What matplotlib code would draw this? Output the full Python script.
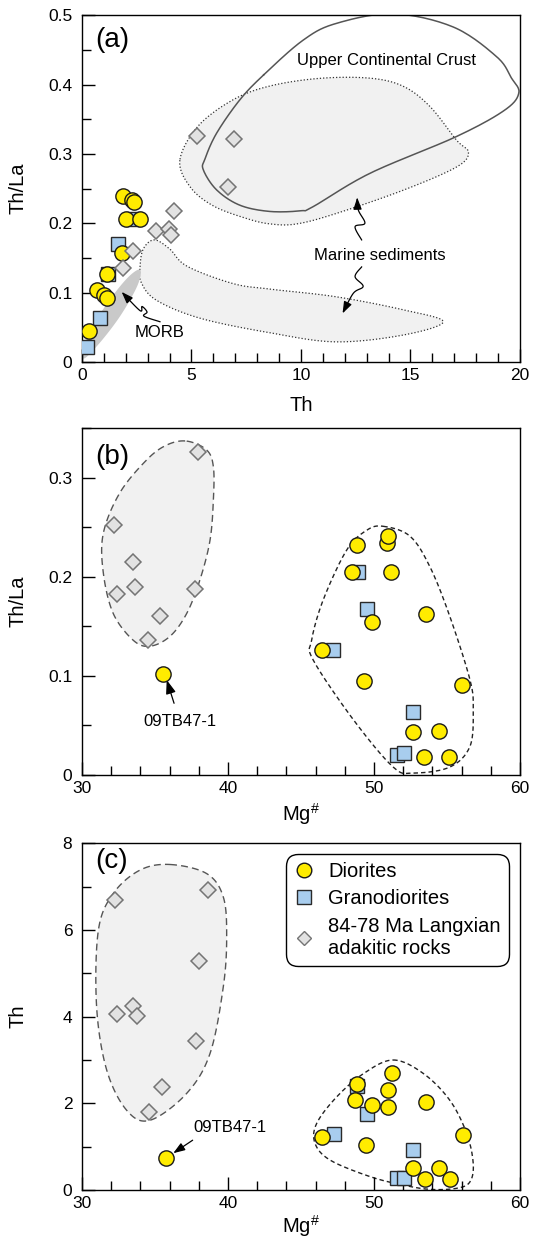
import numpy as np
import matplotlib
matplotlib.use('Agg')
import matplotlib.pyplot as plt
from matplotlib.lines import Line2D
from matplotlib.patches import Polygon

plt.rcParams['font.family'] = ['Liberation Sans', 'DejaVu Sans']
plt.rcParams['mathtext.fontset'] = 'custom'
plt.rcParams['mathtext.rm'] = 'Liberation Sans'
plt.rcParams['mathtext.it'] = 'Liberation Sans'

# ---- panel (a): Th vs Th/La ----
a_dio_th = [1.89, 2.27, 2.37, 2.0, 2.65, 1.84, 1.16, 0.67, 1.0, 1.13, 0.33]
a_dio_ratio = [0.239, 0.234, 0.231, 0.206, 0.206, 0.157, 0.127, 0.104, 0.097, 0.092, 0.044]
a_gra_th = [1.66, 1.2, 0.82, 0.21, 2.31]
a_gra_ratio = [0.170, 0.127, 0.064, 0.021, 0.206]
a_ada_th = [5.24, 6.96, 6.68, 4.2, 3.36, 3.97, 4.06, 2.34, 1.86]
a_ada_ratio = [0.326, 0.322, 0.252, 0.217, 0.189, 0.192, 0.183, 0.160, 0.135]

# field outlines (Th, Th/La)
ucc_outline = [(8.3, 0.414), (10.1, 0.464), (11.6, 0.488), (14.2, 0.502), (16.95, 0.483),
               (18.94, 0.44), (19.6, 0.41), (19.95, 0.388), (19.3, 0.363), (17.1, 0.325),
               (13.15, 0.272), (10.56, 0.224), (10.0, 0.218), (8.58, 0.217), (7.21, 0.226),
               (6.15, 0.248), (5.54, 0.277), (5.62, 0.293), (6.15, 0.330), (7.21, 0.378)]
marine_up = [(4.47, 0.291), (4.95, 0.252), (6.0, 0.225), (7.5, 0.207), (8.6, 0.199),
             (9.8, 0.199), (11.6, 0.214), (14.7, 0.248), (17.1, 0.281), (17.65, 0.302),
             (17.1, 0.32), (15.9, 0.368), (14.7, 0.397), (13.2, 0.409), (10.9, 0.409),
             (8.6, 0.398), (6.9, 0.378), (5.3, 0.340)]
marine_low = [(2.65, 0.137), (2.8, 0.163), (3.3, 0.176), (4.0, 0.163), (4.8, 0.138),
              (6.9, 0.113), (8.6, 0.105), (11.6, 0.094), (14.7, 0.075), (16.5, 0.058),
              (14.7, 0.039), (11.6, 0.029), (8.6, 0.042), (5.4, 0.063), (3.4, 0.089),
              (2.7, 0.115)]
morb_outline = [(2.65, 0.133), (2.53, 0.110), (1.74, 0.066), (0.74, 0.025), (0.05, 0.005),
                (0.2, 0.035), (1.05, 0.080), (2.04, 0.120)]
morb_arrow = [(3.56, 0.058), (2.83, 0.066), (2.97, 0.072), (2.74, 0.080), (2.65, 0.074), (1.81, 0.101)]
marine_arrow_up = [(12.77, 0.176), (12.47, 0.195), (12.92, 0.200), (12.62, 0.219), (12.57, 0.237)]
marine_arrow_low = [(12.77, 0.137), (12.47, 0.123), (12.84, 0.109), (12.39, 0.099), (11.9, 0.070)]

# ---- panel (b): Mg# vs Th/La ----
b_dio_mg = [48.86, 50.91, 50.98, 48.51, 51.14, 49.88, 53.54, 46.42, 49.33, 56.05, 52.65, 54.45, 53.42, 55.16]
b_dio_ratio = [0.232, 0.234, 0.241, 0.205, 0.205, 0.154, 0.162, 0.126, 0.095, 0.091, 0.043, 0.044, 0.018, 0.018]
b_gra_mg = [48.93, 49.5, 47.17, 52.65, 51.55, 52.05]
b_gra_ratio = [0.205, 0.168, 0.126, 0.064, 0.020, 0.022]
b_ada_mg = [37.92, 32.19, 33.51, 32.42, 33.63, 37.74, 35.34, 34.54]
b_ada_ratio = [0.326, 0.2525, 0.215, 0.183, 0.190, 0.188, 0.160, 0.136]
b_special = (35.57, 0.102)
b_ada_field = [(37.17, 0.337), (38.54, 0.328), (39.0, 0.311), (39.0, 0.278), (38.77, 0.237),
               (38.08, 0.197), (37.17, 0.163), (36.03, 0.140), (34.66, 0.130), (33.51, 0.136),
               (32.14, 0.163), (31.46, 0.204), (31.46, 0.244), (32.6, 0.285), (34.43, 0.318),
               (35.8, 0.333)]
b_dio_field = [(50.64, 0.251), (52.47, 0.241), (53.84, 0.210), (55.2, 0.160), (56.58, 0.096),
               (56.8, 0.066), (56.58, 0.029), (55.2, 0.008), (52.7, 0.002), (51.32, 0.008),
               (48.58, 0.056), (45.84, 0.116), (45.73, 0.136), (46.53, 0.177), (48.13, 0.227),
               (49.5, 0.247)]

# ---- panel (c): Mg# vs Th ----
c_dio_mg = [51.21, 48.81, 50.98, 48.7, 49.84, 50.98, 53.56, 46.42, 49.43, 56.07, 52.69, 54.45, 53.49, 55.2]
c_dio_th = [2.71, 2.44, 2.31, 2.07, 1.96, 1.92, 2.04, 1.23, 1.05, 1.28, 0.50, 0.50, 0.25, 0.25]
c_gra_mg = [48.86, 49.5, 47.28, 52.65, 51.55, 52.08]
c_gra_th = [2.40, 1.75, 1.29, 0.92, 0.27, 0.27]
c_ada_mg = [32.26, 38.65, 38.01, 32.42, 33.51, 33.74, 37.81, 35.46, 34.59]
c_ada_th = [6.69, 6.93, 5.29, 4.06, 4.25, 4.02, 3.44, 2.38, 1.81]
c_special = (35.73, 0.745)
c_ada_field = [(36.03, 7.51), (38.54, 7.30), (39.68, 6.76), (39.91, 5.84), (39.68, 4.69),
               (38.77, 3.15), (37.17, 2.23), (34.66, 1.61), (33.06, 1.84), (31.69, 2.77),
               (31.0, 4.23), (31.12, 5.99), (32.14, 6.84), (33.97, 7.38)]
c_dio_field = [(51.32, 3.0), (53.38, 2.69), (55.2, 2.07), (56.35, 1.31), (56.8, 0.62),
               (56.58, 0.19), (55.66, 0.04), (53.84, 0.016), (52.0, 0.115), (49.73, 0.31),
               (47.0, 0.69), (45.96, 1.08), (46.08, 1.54), (47.45, 2.15), (49.3, 2.69)]

YELLOW = '#ffec00'
BLUE = '#a8cdee'
DIA_FACE = '#e2e2e2'
DIA_EDGE = '#747474'


def catmull(pts, closed=True, n=16):
    p = np.asarray(pts, dtype=float)
    if not closed:
        p = np.vstack([p[:1], p, p[-1:]])
    m = len(p)
    rng = range(m) if closed else range(1, m - 2)
    out = []
    t = np.linspace(0, 1, n, endpoint=False)[:, None]
    for i in rng:
        p0, p1, p2, p3 = p[i - 1], p[i], p[(i + 1) % m], p[(i + 2) % m]
        seg = 0.5 * (2 * p1 + (-p0 + p2) * t + (2 * p0 - 5 * p1 + 4 * p2 - p3) * t ** 2
                     + (-p0 + 3 * p1 - 3 * p2 + p3) * t ** 3)
        out.append(seg)
    out = np.vstack(out)
    if closed:
        return np.vstack([out, out[:1]])
    return np.vstack([out, p[-2:-1]])


def squiggle_arrow(ax, pts):
    s = catmull(pts, closed=False, n=10)
    ax.plot(s[:-2, 0], s[:-2, 1], color='black', lw=0.9, zorder=6)
    ax.annotate('', xy=tuple(s[-1]), xytext=tuple(s[-4]),
                arrowprops=dict(arrowstyle='-|>,head_length=0.7,head_width=0.25',
                                color='black', lw=0.9, shrinkA=0, shrinkB=0), zorder=6)


def style_axes(ax):
    ax.tick_params(which='both', direction='in', top=False, right=False, labelsize=12.5, width=1)
    ax.tick_params(which='major', length=9.5)
    ax.tick_params(which='minor', length=6.5)
    ax.tick_params(axis='x', pad=4)
    ax.tick_params(axis='y', pad=7)
    for sp in ax.spines.values():
        sp.set_linewidth(1)
    ax.yaxis.set_label_coords(-0.124, 0.5)


def draw_points(ax, gx, gy, dx, dy, ax_, ay, dia_on_top=False):
    z_d = 5 if dia_on_top else 3
    ax.plot(ax_, ay, 'D', ms=7.9, mfc=DIA_FACE, mec=DIA_EDGE, mew=1.1, ls='none', zorder=z_d)
    ax.plot(gx, gy, 's', ms=10.2, mfc=BLUE, mec='#2a2a2a', mew=1, ls='none', zorder=3.5)
    ax.plot(dx, dy, 'o', ms=11, mfc=YELLOW, mec='#1a1a1a', mew=1, ls='none', zorder=4)


fig = plt.figure(figsize=(5.36, 12.43), dpi=100)
L, W, H = 0.153, 0.817, 0.279
ax1 = fig.add_axes([L, 0.7088, W, H])
ax2 = fig.add_axes([L, 0.3765, W, H])
ax3 = fig.add_axes([L, 0.0426, W, H])

# panel (a)
ax = ax1
ax.add_patch(Polygon(catmull(marine_up), closed=True, fc='#f1f1f1', ec='#333333',
                     lw=0.9, ls=(0, (1, 1.6)), zorder=1))
ax.add_patch(Polygon(catmull(marine_low), closed=True, fc='#f1f1f1', ec='#333333',
                     lw=0.9, ls=(0, (1, 1.6)), zorder=1))
ax.add_patch(Polygon(catmull(morb_outline), closed=True, fc='#c9c9c9', ec='none', zorder=1.5))
ucc = catmull(ucc_outline)
ax.plot(ucc[:, 0], ucc[:, 1], color='#555555', lw=1.1, zorder=2)
draw_points(ax, a_gra_th, a_gra_ratio, a_dio_th, a_dio_ratio, a_ada_th, a_ada_ratio, dia_on_top=True)
ax.text(13.9, 0.434, 'Upper Continental Crust', fontsize=12, ha='center', va='center')
ax.text(13.6, 0.154, 'Marine sediments', fontsize=12, ha='center', va='center')
ax.text(3.55, 0.043, 'MORB', fontsize=12, ha='center', va='center')
squiggle_arrow(ax, morb_arrow)
squiggle_arrow(ax, marine_arrow_up)
squiggle_arrow(ax, marine_arrow_low)
ax.set_xlim(0, 20)
ax.set_ylim(0, 0.5)
ax.set_xticks([0, 5, 10, 15, 20])
ax.set_xticks(np.arange(0, 21, 1), minor=True)
ax.set_yticks([0, 0.1, 0.2, 0.3, 0.4, 0.5])
ax.set_yticklabels(['0', '0.1', '0.2', '0.3', '0.4', '0.5'])
ax.set_yticks(np.arange(0, 0.51, 0.05), minor=True)
ax.set_xlabel('Th', fontsize=14.5, labelpad=10)
ax.set_ylabel('Th/La', fontsize=14.5)
ax.text(0.03, 0.965, '(a)', transform=ax.transAxes, fontsize=20, va='top', ha='left')
style_axes(ax)

# panel (b)
ax = ax2
ax.add_patch(Polygon(catmull(b_ada_field), closed=True, fc='#f1f1f1', ec='#555555',
                     lw=1, ls=(0, (5, 3)), zorder=1))
f = catmull(b_dio_field)
ax.plot(f[:, 0], f[:, 1], color='#222222', lw=1, ls=(0, (3.2, 2.2)), zorder=1)
draw_points(ax, b_gra_mg, b_gra_ratio, b_dio_mg, b_dio_ratio, b_ada_mg, b_ada_ratio)
ax.plot(*b_special, 'o', ms=11, mfc=YELLOW, mec='#1a1a1a', mew=1, zorder=4)
ax.annotate('09TB47-1', xy=(35.8, 0.096), xytext=(36.7, 0.054), fontsize=12,
            ha='center', va='center',
            arrowprops=dict(arrowstyle='-|>,head_length=0.7,head_width=0.25', color='black',
                            lw=0.9, shrinkA=6, shrinkB=0))
ax.set_xlim(30, 60)
ax.set_ylim(0, 0.35)
ax.set_xticks([30, 40, 50, 60])
ax.set_xticks(np.arange(30, 61, 2), minor=True)
ax.set_yticks([0, 0.1, 0.2, 0.3])
ax.set_yticklabels(['0', '0.1', '0.2', '0.3'])
ax.set_yticks(np.arange(0, 0.351, 0.05), minor=True)
ax.set_xlabel('Mg$^{\\#}$', fontsize=14.5, labelpad=4)
ax.set_ylabel('Th/La', fontsize=14.5)
ax.text(0.03, 0.955, '(b)', transform=ax.transAxes, fontsize=20, va='top', ha='left')
style_axes(ax)

# panel (c)
ax = ax3
ax.add_patch(Polygon(catmull(c_ada_field), closed=True, fc='#f1f1f1', ec='#555555',
                     lw=1, ls=(0, (5, 3)), zorder=1))
f = catmull(c_dio_field)
ax.plot(f[:, 0], f[:, 1], color='#222222', lw=1, ls=(0, (3.2, 2.2)), zorder=1)
draw_points(ax, c_gra_mg, c_gra_th, c_dio_mg, c_dio_th, c_ada_mg, c_ada_th)
ax.plot(*c_special, 'o', ms=11, mfc=YELLOW, mec='#1a1a1a', mew=1, zorder=4)
ax.annotate('', xy=(36.25, 0.85), xytext=(37.58, 1.15),
            arrowprops=dict(arrowstyle='-|>,head_length=0.7,head_width=0.25', color='black',
                            lw=0.9, shrinkA=0, shrinkB=0))
ax.text(37.62, 1.27, '09TB47-1', fontsize=12, ha='left', va='bottom')
ax.set_xlim(30, 60)
ax.set_ylim(0, 8)
ax.set_xticks([30, 40, 50, 60])
ax.set_xticks(np.arange(30, 61, 2), minor=True)
ax.set_yticks([0, 2, 4, 6, 8])
ax.set_yticks(np.arange(0, 8.1, 1), minor=True)
ax.set_xlabel('Mg$^{\\#}$', fontsize=14.5, labelpad=2)
ax.set_ylabel('Th', fontsize=14.5)
ax.text(0.03, 0.985, '(c)', transform=ax.transAxes, fontsize=20, va='top', ha='left')
style_axes(ax)

handles = [
    Line2D([], [], marker='o', ls='none', ms=10.5, mfc=YELLOW, mec='#1a1a1a', mew=1),
    Line2D([], [], marker='s', ls='none', ms=9.5, mfc=BLUE, mec='#2a2a2a', mew=1),
    Line2D([], [], marker='D', ls='none', ms=7.6, mfc=DIA_FACE, mec=DIA_EDGE, mew=1),
]
labels = ['Diorites', 'Granodiorites', '84-78 Ma Langxian\nadakitic rocks']
leg = ax.legend(handles, labels, loc='upper right', bbox_to_anchor=(0.975, 0.97),
                borderaxespad=0, fontsize=14.5, frameon=True, fancybox=True,
                edgecolor='black', framealpha=1, handlelength=1.0, handletextpad=0.7,
                labelspacing=0.42, borderpad=0.4)
leg.get_frame().set_linewidth(1)
leg.get_frame().set_boxstyle('round,pad=0,rounding_size=0.6')

fig.savefig('out.png', dpi=100)
